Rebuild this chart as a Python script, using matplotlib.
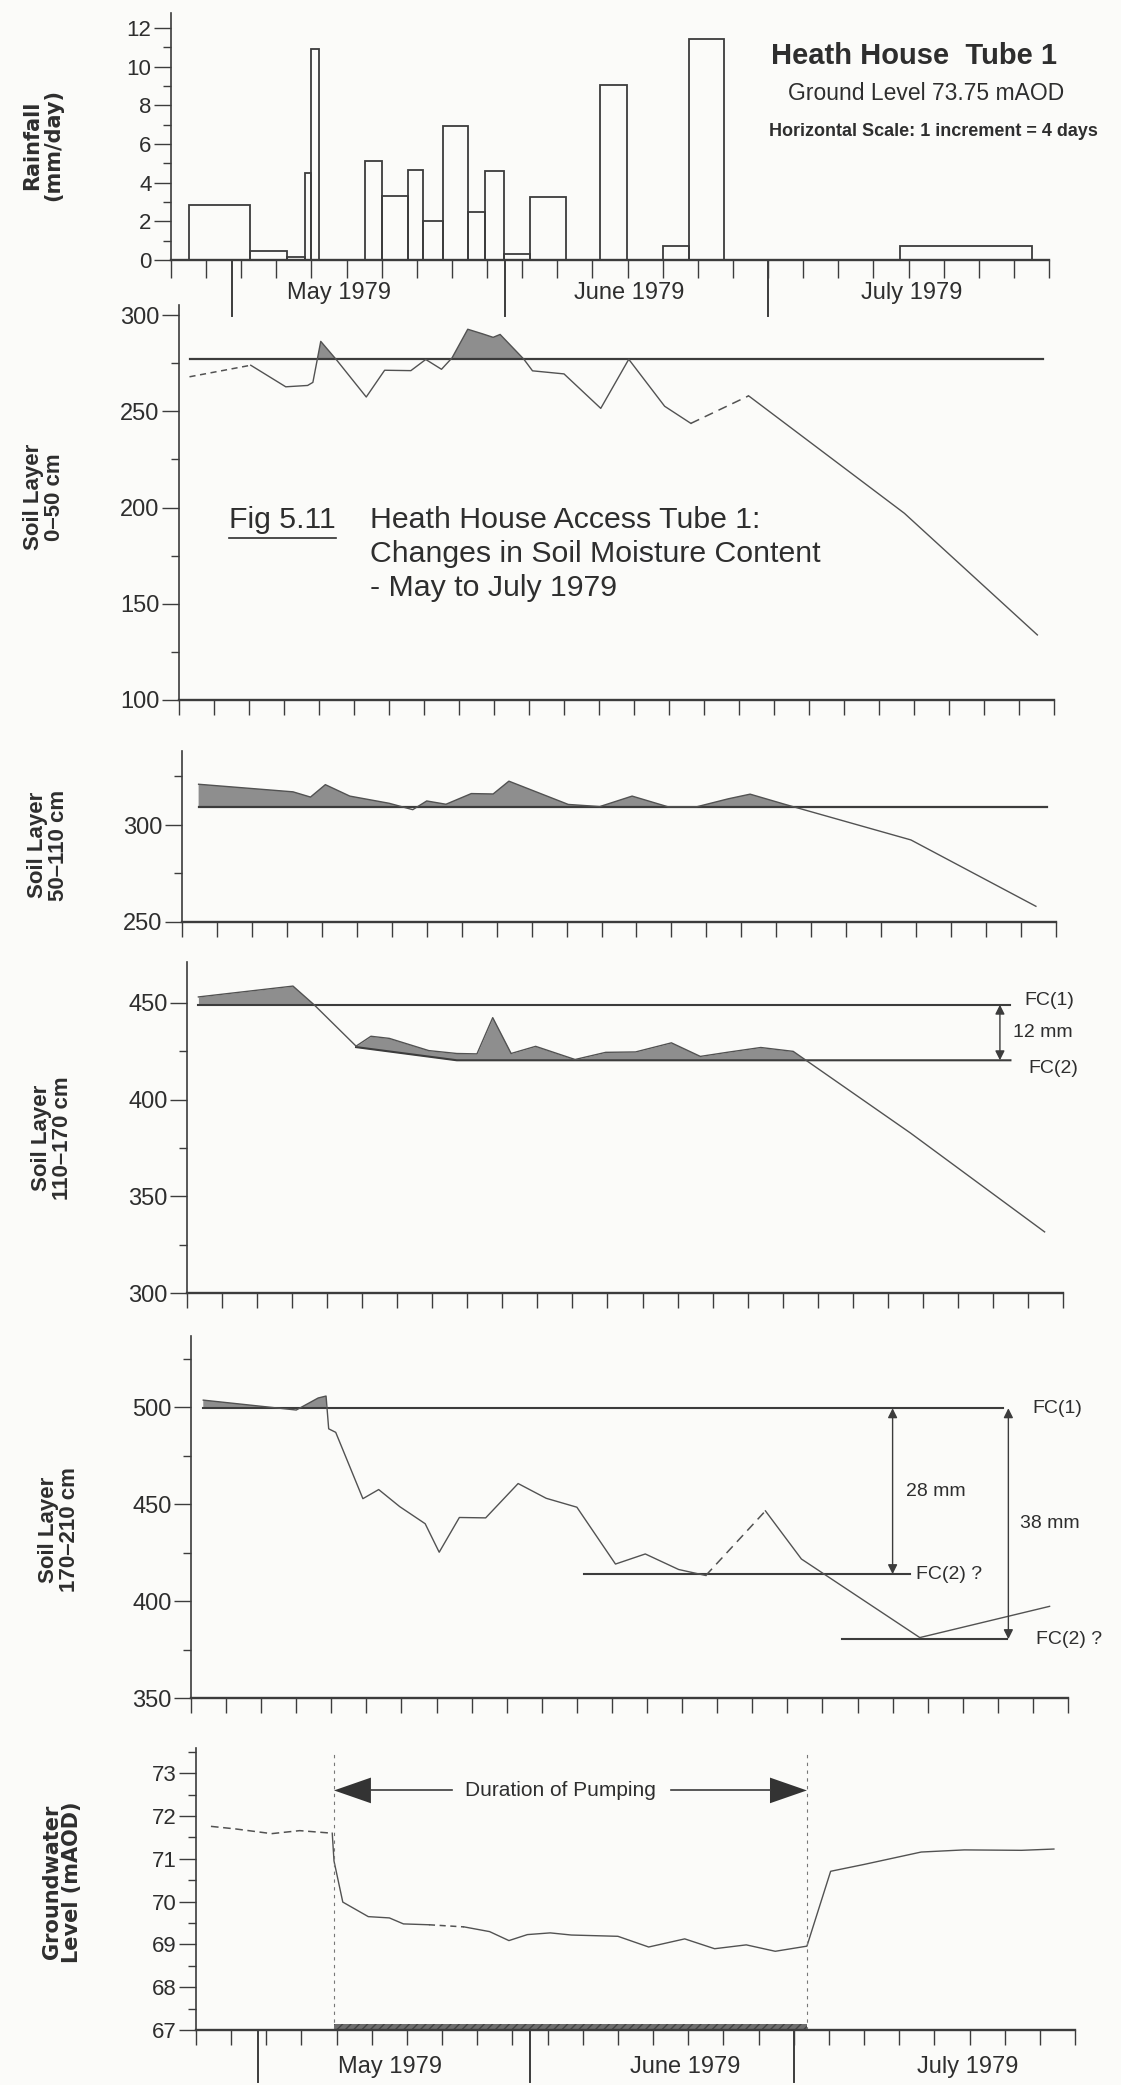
import numpy as np
import matplotlib
matplotlib.use('Agg')
import matplotlib.pyplot as plt
from matplotlib.transforms import blended_transform_factory
from matplotlib.lines import Line2D

# ---------------- data ----------------
origin = np.datetime64('1979-04-24')          # day 0 of the horizontal scale
month_labels = ['May 1979', 'June 1979', 'July 1979']
month_first = np.array(['1979-05-01', '1979-06-01', '1979-07-01'], dtype='datetime64[D]')
month_day = (month_first - origin).astype(int)
tick_days = np.arange(0, 101, 4)               # 1 increment = 4 days

# rainfall (mm/day), each bar spans [start, end) in days
rain_start = [2.0, 9.0, 13.2, 15.3, 16.0, 22.1, 24.0, 27.0, 28.7, 31.0, 33.8, 35.8, 37.9, 40.9, 48.9, 56.0, 59.0, 83.0]
rain_end   = [9.0, 13.2, 15.3, 16.0, 16.9, 24.0, 27.0, 28.7, 31.0, 33.8, 35.8, 37.9, 40.9, 45.0, 51.9, 59.0, 63.0, 98.1]
rain_mm    = [2.82, 0.47, 0.18, 4.5, 10.9, 5.1, 3.3, 4.65, 2.0, 6.95, 2.5, 4.63, 0.3, 3.25, 9.07, 0.7, 11.45, 0.75]

# soil layer 0-50 cm
s1_day = [1.2, 8.2, 12.2, 14.7, 15.3, 16.2, 18.0, 21.4, 23.5, 26.5, 28.2, 30.0, 31.2, 33.0, 34.7, 35.9, 36.7,
          39.4, 40.4, 44.0, 48.2, 51.4, 55.5, 58.5, 65.1, 82.9, 98.1]
s1_mm = [267.9, 273.9, 262.7, 263.4, 265.0, 286.3, 276.7, 257.4, 271.3, 271.1, 276.9, 271.8, 277.7, 292.6, 290.2,
         288.4, 289.9, 277.1, 271.0, 269.4, 251.5, 277.0, 252.6, 243.7, 258.0, 197.0, 133.8]
s1_ref = 277.0
s1_ref_span = [1.2, 98.7]

# soil layer 50-110 cm
s2_day = [1.9, 12.7, 14.7, 16.4, 19.2, 23.7, 26.4, 28.0, 30.2, 33.1, 35.6, 37.4, 44.2, 47.8, 51.5, 55.6,
          58.9, 62.5, 65.0, 69.1, 83.4, 97.7]
s2_mm = [321.0, 317.1, 314.4, 320.8, 314.9, 311.2, 307.9, 312.4, 310.7, 316.2, 316.0, 322.6, 310.6, 309.5,
         314.9, 309.4, 309.4, 313.5, 315.9, 310.5, 292.3, 258.1]
s2_ref = 309.5
s2_ref_span = [1.9, 99.0]

# soil layer 110-170 cm
s3_day = [1.3, 12.1, 14.5, 19.3, 21.0, 23.1, 27.6, 30.8, 33.1, 34.9, 37.0, 39.8, 44.3, 47.8, 51.2, 55.3,
          58.6, 61.8, 65.5, 69.2, 70.6, 82.6, 97.9]
s3_mm = [453.0, 458.6, 449.0, 427.6, 432.7, 431.6, 425.3, 423.8, 423.6, 442.3, 423.8, 427.5, 420.7, 424.4,
         424.6, 429.3, 422.3, 424.5, 426.9, 424.9, 420.5, 382.7, 331.7]
s3_fc1 = 449.0
s3_fc1_span = [1.3, 94.0]
s3_fc2_day = [19.3, 30.8, 94.0]
s3_fc2_mm = [427.1, 420.3, 420.3]
s3_gap_label = '12 mm'

# soil layer 170-210 cm
s4_day = [1.4, 12.0, 14.5, 15.4, 15.7, 16.5, 19.6, 21.4, 23.8, 26.7, 28.3, 30.6, 33.6, 37.3, 40.5, 44.0,
          48.4, 51.8, 55.6, 58.7, 65.5, 69.6, 83.1, 97.9]
s4_mm = [503.7, 498.6, 504.8, 505.8, 488.9, 487.1, 452.9, 457.6, 448.8, 440.0, 425.3, 443.2, 443.0, 460.7,
         453.1, 448.5, 419.2, 424.4, 416.4, 413.3, 446.6, 421.8, 381.3, 397.4]
s4_fc1 = 499.5
s4_fc1_span = [1.4, 92.6]
s4_fc2a = 414.0
s4_fc2a_span = [44.8, 82.0]
s4_fc2b = 380.5
s4_fc2b_span = [74.2, 93.0]
s4_gap_labels = ['28 mm', '38 mm']

# groundwater level (mAOD)
gw_day = [1.7, 4.5, 8.6, 11.8, 15.5, 15.7, 16.7, 19.6, 22.0, 23.6, 26.5, 30.5, 33.4, 35.6, 37.7, 40.3, 42.7,
          48.0, 51.5, 55.6, 59.0, 62.6, 65.9, 69.5, 72.2, 76.0, 82.5, 87.4, 93.9, 97.6]
gw_m = [71.76, 71.70, 71.59, 71.66, 71.60, 70.95, 69.99, 69.65, 69.62, 69.48, 69.46, 69.41, 69.30, 69.09,
        69.23, 69.27, 69.22, 69.19, 68.94, 69.13, 68.90, 68.99, 68.84, 68.96, 70.71, 70.87, 71.16, 71.21,
        71.20, 71.23]
pump_start, pump_end = 15.7, 69.5

# ---------------- style ----------------
W, H = 1121, 2085
AX = '#3c3c3c'
LN = '#525252'
SH = '#8e8e8e'
TXT = '#2e2e2e'
COND = ['Liberation Sans Narrow', 'Liberation Sans', 'DejaVu Sans']
HELV = ['Liberation Sans', 'DejaVu Sans']
plt.rcParams['font.family'] = HELV

fig = plt.figure(figsize=(W / 100, H / 100), dpi=100)
fig.patch.set_facecolor('#fbfbf9')


def fx(px):
    return px / W


def fy(py):
    return 1 - py / H


def make_ax(px_left, px_right, px_bottom, ppu, ylim):
    px_top = px_bottom - (ylim[1] - ylim[0]) * ppu
    ax = fig.add_axes([fx(px_left), fy(px_bottom), (px_right - px_left) / W, (px_bottom - px_top) / H])
    ax.set_xlim(0, 100)
    ax.set_ylim(*ylim)
    ax.patch.set_alpha(0)
    for s in ('top', 'right'):
        ax.spines[s].set_visible(False)
    ax.spines['left'].set_color(AX)
    ax.spines['left'].set_linewidth(1.2)
    ax.spines['bottom'].set_color(AX)
    ax.spines['bottom'].set_linewidth(1.7)
    ax.set_xticks(tick_days)
    ax.tick_params(axis='x', direction='out', length=11, width=1.0, color=AX, labelbottom=False)
    ax.tick_params(axis='y', which='major', direction='out', length=12, width=1.0, color=AX,
                   pad=2, labelcolor=TXT)
    ax.tick_params(axis='y', which='minor', direction='out', length=6, width=1.0, color=AX)
    return ax, px_bottom - px_top


def month_ticks(ax, axh_px, length_px):
    tr = blended_transform_factory(ax.transData, ax.transAxes)
    for d in month_day:
        ax.plot([d, d], [0, -length_px / axh_px], transform=tr, clip_on=False, color=AX, lw=1.4)


def ylabel(px, py, s, size, family=HELV):
    fig.text(fx(px), fy(py), s, rotation=90, ha='center', va='center', multialignment='center',
             fontsize=size, fontweight='bold', color=TXT, family=family, linespacing=1.05)


# ---------------- panel 1: rainfall ----------------
ax1, h1 = make_ax(171, 1049, 260, 19.33, (0, 12.8))
ax1.bar(rain_start, rain_mm, width=np.subtract(rain_end, rain_start), align='edge',
        facecolor='none', edgecolor=AX, linewidth=1.3)
ax1.set_yticks(np.arange(0, 13, 2))
ax1.set_yticks(np.arange(1, 12, 2), minor=True)
ax1.set_yticklabels([str(v) for v in range(0, 13, 2)], fontsize=16, family=COND)
ax1.tick_params(axis='x', length=13)
month_ticks(ax1, h1, 56)
for d, lab, off in zip(month_day, month_labels, [12.1, 14.2, 16.4]):
    fig.text(fx(171 + (d + off) * 8.78), fy(293), lab, ha='center', va='center', fontsize=17,
             family=COND, color=TXT)
fig.text(fx(914), fy(56), 'Heath House  Tube 1', ha='center', va='center', fontsize=21,
         fontweight='bold', family=COND, color=TXT)
fig.text(fx(926), fy(94), 'Ground Level 73.75 mAOD', ha='center', va='center', fontsize=16.5,
         family=COND, color=TXT)
fig.text(fx(933), fy(131), 'Horizontal Scale: 1 increment = 4 days', ha='center', va='center',
         fontsize=13, fontweight='bold', family=COND, color=TXT)
ylabel(43, 145, 'Rainfall\n(mm/day)', 15, family=['DejaVu Sans'])

# ---------------- panel 2: soil 0-50 ----------------
ax2, h2 = make_ax(179, 1054, 700, 1.925, (100, 305))
ax2.set_yticks(np.arange(100, 301, 50))
ax2.set_yticks(np.arange(125, 300, 50), minor=True)
ax2.tick_params(axis='y', labelsize=17)
d1 = np.array(s1_day)
v1 = np.array(s1_mm)
ax2.fill_between(d1, v1, s1_ref, where=(v1 >= s1_ref) & (d1 < 45), interpolate=True, color=SH, lw=0)
ax2.plot(s1_ref_span, [s1_ref, s1_ref], color=AX, lw=1.6)
ax2.plot(d1[0:2], v1[0:2], color=LN, lw=1.1, ls=(0, (4, 3)))
ax2.plot(d1[1:24], v1[1:24], color=LN, lw=1.0)
ax2.plot(d1[23:25], v1[23:25], color=LN, lw=1.1, ls=(0, (6, 4)))
ax2.plot(d1[24:], v1[24:], color=LN, lw=1.0)
ylabel(44, 497, 'Soil Layer\n0\u201350 cm', 16)

CAP = 21.8
cap = fig.text(fx(229), fy(520), 'Fig 5.11', ha='left', va='center', fontsize=CAP, family=HELV, color=TXT)
fig.text(fx(370), fy(520), 'Heath House Access Tube 1:', ha='left', va='center', fontsize=CAP,
         family=HELV, color=TXT)
fig.text(fx(370), fy(554), 'Changes in Soil Moisture Content', ha='left', va='center', fontsize=CAP,
         family=HELV, color=TXT)
fig.text(fx(370), fy(588), '- May to July 1979', ha='left', va='center', fontsize=CAP,
         family=HELV, color=TXT)
fig.canvas.draw()
bb = cap.get_window_extent()
fig.add_artist(Line2D([bb.x0 / W, bb.x1 / W], [fy(538), fy(538)], color=TXT, lw=1.2))

# ---------------- panel 3: soil 50-110 ----------------
ax3, h3 = make_ax(182, 1056, 922, 1.94, (250, 338))
ax3.set_yticks([250, 300])
ax3.set_yticks([275, 325], minor=True)
ax3.tick_params(axis='y', labelsize=17)
d2 = np.array(s2_day)
v2 = np.array(s2_mm)
ax3.fill_between(d2, v2, s2_ref, where=(v2 >= s2_ref) & (d2 < 70), interpolate=True, color=SH, lw=0)
ax3.plot(s2_ref_span, [s2_ref, s2_ref], color=AX, lw=1.6)
ax3.plot(d2, v2, color=LN, lw=1.0)
ylabel(48, 845, 'Soil Layer\n50\u2013110 cm', 16)

# ---------------- panel 4: soil 110-170 ----------------
ax4, h4 = make_ax(187, 1063, 1293.3, 1.937, (300, 471))
ax4.set_yticks(np.arange(300, 451, 50))
ax4.set_yticks(np.arange(325, 450, 50), minor=True)
ax4.tick_params(axis='y', labelsize=17)
d3 = np.array(s3_day)
v3 = np.array(s3_mm)
left = d3 <= 14.5
ax4.fill_between(d3[left], v3[left], s3_fc1, where=v3[left] >= s3_fc1, interpolate=True, color=SH, lw=0)
mid = (d3 >= 19.3) & (d3 <= 70.6)
base = np.interp(d3[mid], s3_fc2_day, s3_fc2_mm)
ax4.fill_between(d3[mid], v3[mid], base, where=v3[mid] >= base, interpolate=True, color=SH, lw=0)
ax4.plot(s3_fc1_span, [s3_fc1, s3_fc1], color=AX, lw=1.5)
ax4.plot(s3_fc2_day, s3_fc2_mm, color=AX, lw=1.5)
ax4.plot(d3, v3, color=LN, lw=1.0)
ax4.annotate('', xy=(92.8, s3_fc2_mm[-1]), xytext=(92.8, s3_fc1),
             arrowprops=dict(arrowstyle='<|-|>', color=AX, lw=1.0, mutation_scale=14, shrinkA=0, shrinkB=0),
             annotation_clip=False)
ax4.text(94.3, (s3_fc1 + s3_fc2_mm[-1]) / 2, s3_gap_label, ha='left', va='center', fontsize=14,
         family=COND, color=TXT, clip_on=False)
ax4.text(95.6, s3_fc1 + 2, 'FC(1)', ha='left', va='center', fontsize=14, family=COND, color=TXT, clip_on=False)
ax4.text(96.0, s3_fc2_mm[-1] - 4, 'FC(2)', ha='left', va='center', fontsize=14, family=COND, color=TXT,
         clip_on=False)
ylabel(52, 1138, 'Soil Layer\n110\u2013170 cm', 16)

# ---------------- panel 5: soil 170-210 ----------------
ax5, h5 = make_ax(191, 1068, 1698.3, 1.94, (350, 537))
ax5.set_yticks(np.arange(350, 501, 50))
ax5.set_yticks(np.arange(375, 530, 50), minor=True)
ax5.tick_params(axis='y', labelsize=17)
d4 = np.array(s4_day)
v4 = np.array(s4_mm)
left = d4 <= 15.4
ax5.fill_between(d4[left], v4[left], s4_fc1, where=v4[left] >= s4_fc1, interpolate=True, color=SH, lw=0)
ax5.plot(s4_fc1_span, [s4_fc1, s4_fc1], color=AX, lw=1.5)
ax5.plot(s4_fc2a_span, [s4_fc2a, s4_fc2a], color=AX, lw=1.5)
ax5.plot(s4_fc2b_span, [s4_fc2b, s4_fc2b], color=AX, lw=1.5)
ax5.plot(d4[:20], v4[:20], color=LN, lw=1.0)
ax5.plot(d4[19:21], v4[19:21], color=LN, lw=1.1, ls=(0, (6, 4)))
ax5.plot(d4[20:], v4[20:], color=LN, lw=1.0)
for xd, lo, lab, lx in [(80.0, s4_fc2a, s4_gap_labels[0], 81.5), (93.2, s4_fc2b, s4_gap_labels[1], 94.5)]:
    ax5.annotate('', xy=(xd, lo), xytext=(xd, s4_fc1),
                 arrowprops=dict(arrowstyle='<|-|>', color=AX, lw=1.0, mutation_scale=14, shrinkA=0,
                                 shrinkB=0), annotation_clip=False)
    ax5.text(lx, (s4_fc1 + lo) / 2, lab, ha='left', va='center', fontsize=14, family=COND, color=TXT,
             clip_on=False)
ax5.text(95.9, s4_fc1, 'FC(1)', ha='left', va='center', fontsize=14, family=COND, color=TXT, clip_on=False)
ax5.text(82.7, s4_fc2a, 'FC(2) ?', ha='left', va='center', fontsize=14, family=COND, color=TXT, clip_on=False)
ax5.text(96.4, s4_fc2b, 'FC(2) ?', ha='left', va='center', fontsize=14, family=COND, color=TXT, clip_on=False)
ylabel(59, 1530, 'Soil Layer\n170\u2013210 cm', 16)

# ---------------- panel 6: groundwater ----------------
ax6, h6 = make_ax(196, 1075, 2030, 42.78, (67, 73.6))
ax6.set_yticks(np.arange(67, 74, 1))
ax6.set_yticks(np.arange(67.5, 73.6, 1), minor=True)
ax6.set_yticklabels([str(v) for v in range(67, 74)], fontsize=16, family=COND)
g_d = np.array(gw_day)
g_v = np.array(gw_m)
ax6.plot(g_d[0:5], g_v[0:5], color=LN, lw=1.1, ls=(0, (5, 3)))
ax6.plot(g_d[4:11], g_v[4:11], color=LN, lw=1.0)
ax6.plot(g_d[10:12], g_v[10:12], color=LN, lw=1.1, ls=(0, (4, 3)))
ax6.plot(g_d[11:], g_v[11:], color=LN, lw=1.0)
for p in (pump_start, pump_end):
    ax6.plot([p, p], [67, 73.45], color='#777777', lw=0.8, ls=(0, (3, 4)))
ax6.fill_between([pump_start, pump_end], 67, 67.13, color='#6e6e6e', lw=0, hatch='////', edgecolor='#444444')
ya, hh, head = 72.6, 0.3, 4.2
ax6.fill([pump_start, pump_start + head, pump_start + head], [ya, ya + hh, ya - hh], color='#333333', lw=0)
ax6.fill([pump_end, pump_end - head, pump_end - head], [ya, ya + hh, ya - hh], color='#333333', lw=0)
ax6.plot([pump_start + head, 29.1], [ya, ya], color=AX, lw=1.2)
ax6.plot([54.0, pump_end - head], [ya, ya], color=AX, lw=1.2)
ax6.text(41.5, ya, 'Duration of Pumping', ha='center', va='center', fontsize=15, family=COND, color=TXT)
month_ticks(ax6, h6, 52)
for d, lab, off in zip(month_day, month_labels, [15.1, 17.6, 19.8]):
    fig.text(fx(196 + (d + off) * 8.79), fy(2067), lab, ha='center', va='center', fontsize=17,
             family=COND, color=TXT)
ylabel(62, 1882, 'Groundwater\nLevel (mAOD)', 15, family=['DejaVu Sans'])

fig.savefig('out.png', dpi=100, facecolor=fig.get_facecolor())
